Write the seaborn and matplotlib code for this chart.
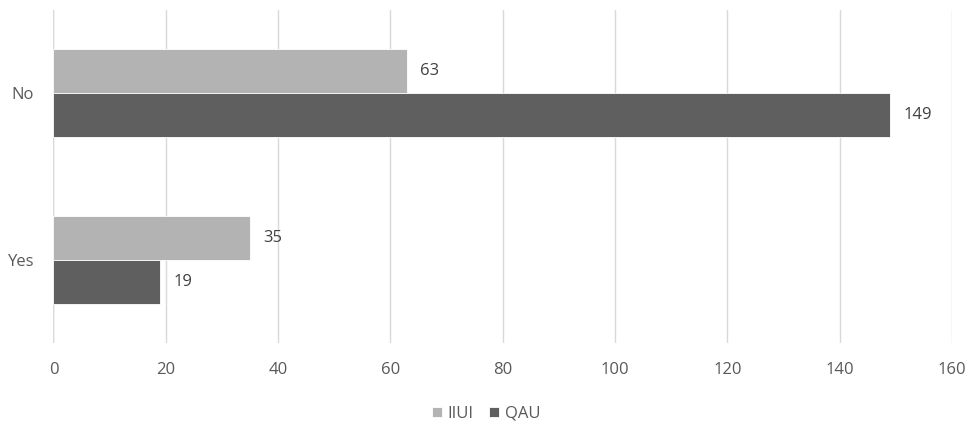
import matplotlib
matplotlib.use("Agg")
import matplotlib.pyplot as plt
import seaborn as sns
import pandas as pd

categories = ["No", "Yes"]
iiui = [63, 35]
qau = [149, 19]
series = ["IIUI", "QAU"]
x_ticks = [0, 20, 40, 60, 80, 100, 120, 140, 160]

df = pd.DataFrame({
    "answer": categories * 2,
    "value": iiui + qau,
    "university": [series[0]] * len(categories) + [series[1]] * len(categories),
})

sns.set_theme(style="white")
plt.rcParams["font.family"] = ["Open Sans", "DejaVu Sans"]

text_color = "#595959"
palette = {"IIUI": "#b3b3b3", "QAU": "#5f5f5f"}
fs = 12

fig = plt.figure(figsize=(9.72, 4.23), dpi=100)
ax = fig.add_axes([0.055, 0.189, 0.9245, 0.7885])

sns.barplot(data=df, y="answer", x="value", hue="university", order=categories,
            hue_order=series, palette=palette, orient="h", width=0.527,
            saturation=1, edgecolor="white", linewidth=0.6, ax=ax, legend=True)

for container in ax.containers:
    ax.bar_label(container, padding=9.5, fontsize=fs, color="#404040")

ax.set_xlim(0, 160)
ax.set_ylim(1.5, -0.5)
ax.set_xticks(x_ticks)
ax.set_xticklabels([str(t) for t in x_ticks])
ax.grid(axis="x", color="#d9d9d9", linewidth=1)
ax.set_axisbelow(True)
for s in ax.spines.values():
    s.set_visible(False)
ax.axvline(0, color="#d9d9d9", linewidth=1, zorder=0)
ax.tick_params(axis="both", length=0, labelsize=fs, labelcolor=text_color)
ax.tick_params(axis="x", pad=14)
ax.tick_params(axis="y", pad=14)
ax.set_xlabel("")
ax.set_ylabel("")

handles, labels = ax.get_legend_handles_labels()
ax.legend_.remove()
fig.legend(handles, labels, loc="center", bbox_to_anchor=(0.5, 0.022), ncol=2,
           frameon=False, fontsize=fs, handlelength=0.6, handleheight=0.6,
           handletextpad=0.35, columnspacing=0.9, labelcolor=text_color,
           borderpad=0)

fig.savefig("out.png", dpi=100)
